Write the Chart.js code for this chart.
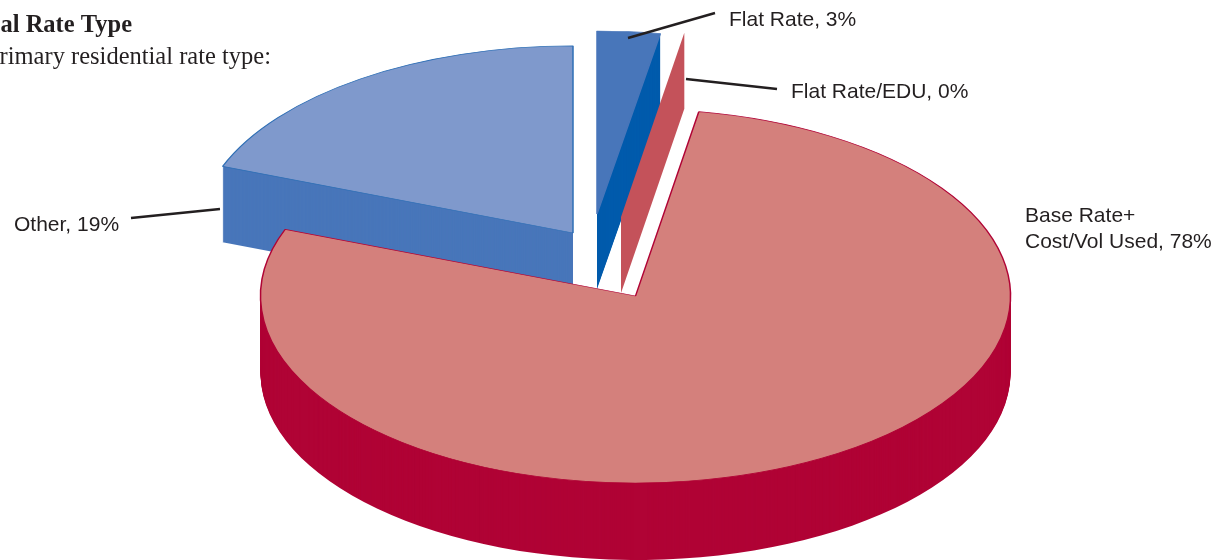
<!DOCTYPE html>
<html>
<head>
<meta charset="utf-8">
<title>Residential Rate Type</title>
<script src="https://cdn.jsdelivr.net/npm/chart.js@4"></script>
<style>
  html, body { margin: 0; padding: 0; background: #fff; overflow: hidden; }
  canvas { display: block; }
</style>
</head>
<body>
<canvas id="rateChart" width="1225" height="560"></canvas>
<script>
const categories = ["Flat Rate", "Flat Rate/EDU", "Base Rate+\nCost/Vol Used", "Other"];
// the labels show these rounded
const shares = [2.7, 0, 78.1, 19.2];
const titleLines = ["al Rate Type", "rimary residential rate type:"];

const topColors = ["#4876ba", "#c4525a", "#d4807c", "#7f99cc"];
const wallColors = ["#005bac", "#c4525a", "#b00335", "#4876ba"];
const edgeColors = ["#4876ba", "#c4525a", "#b00335", "#2f6fb5"];

const squash = [0.488, 0.4987, 0.4987, 0.4987];
const depths = [75, 76, 77, 76];
const drawOrder = [3, 0, 1, 2];
// where each exploded slice has its tip on the page
const tips = [[597, 214], [621, 217], [635.5, 296], [573, 233]];
// label anchors and leader lines, same order as categories
const labelSpots = [[729, 26], [791, 98], [1025, 222], [14, 231]];
const leaders = [
  [[628, 38], [715, 13]],
  [[686, 79], [777, 89]],
  null,
  [[131, 218], [220, 209]]
];

function placeSlice(ctx, arc, i, drop) {
  ctx.translate(tips[i][0], tips[i][1] + drop);
  ctx.scale(1, squash[i]);
  ctx.translate(-arc.x, -arc.y);
}

function slicePath(ctx, arc) {
  ctx.beginPath();
  ctx.moveTo(arc.x, arc.y);
  ctx.arc(arc.x, arc.y, arc.outerRadius, arc.startAngle, arc.endAngle);
  ctx.closePath();
}

function drawWall(ctx, arc, i) {
  ctx.fillStyle = wallColors[i];
  if (arc.circumference === 0) {
    // a 0% slice has no top, only its cut face shows
    const ox = Math.cos(arc.startAngle) * arc.outerRadius;
    const oy = Math.sin(arc.startAngle) * arc.outerRadius * squash[i];
    const [tx, ty] = tips[i];
    ctx.beginPath();
    ctx.moveTo(tx, ty);
    ctx.lineTo(tx + ox, ty + oy);
    ctx.lineTo(tx + ox, ty + oy + depths[i]);
    ctx.lineTo(tx, ty + depths[i]);
    ctx.closePath();
    ctx.fill();
    return;
  }
  for (let d = depths[i]; d > 0; d--) {
    ctx.save();
    placeSlice(ctx, arc, i, d);
    slicePath(ctx, arc);
    ctx.fill();
    ctx.restore();
  }
}

const pie3d = {
  id: "pie3d",
  beforeDatasetsDraw(chart) {
    const ctx = chart.ctx;
    const arcs = chart.getDatasetMeta(0).data;
    drawOrder.forEach(i => {
      drawWall(ctx, arcs[i], i);
      if (arcs[i].circumference > 0) {
        ctx.save();
        placeSlice(ctx, arcs[i], i, 0);
        arcs[i].draw(ctx);
        ctx.restore();
      }
    });
    return false;
  },
  afterDraw(chart) {
    const ctx = chart.ctx;
    ctx.save();
    ctx.fillStyle = "#231f20";
    ctx.strokeStyle = "#231f20";
    ctx.lineWidth = 2.4;
    ctx.textBaseline = "alphabetic";

    ctx.textAlign = "right";
    ctx.font = "bold 24.5px 'Liberation Serif'";
    ctx.fillText(titleLines[0], 132, 32);
    ctx.font = "24.5px 'Liberation Serif'";
    ctx.fillText(titleLines[1], 271, 64);

    ctx.textAlign = "left";
    ctx.font = "21px 'Liberation Sans'";
    categories.forEach((name, i) => {
      const text = name + ", " + Math.round(shares[i]) + "%";
      text.split("\n").forEach((line, n) => {
        ctx.fillText(line, labelSpots[i][0], labelSpots[i][1] + n * 26);
      });
      if (leaders[i]) {
        ctx.beginPath();
        ctx.moveTo(leaders[i][0][0], leaders[i][0][1]);
        ctx.lineTo(leaders[i][1][0], leaders[i][1][1]);
        ctx.stroke();
      }
    });
    ctx.restore();
  }
};

new Chart(document.getElementById("rateChart"), {
  type: "pie",
  data: {
    labels: categories,
    datasets: [{
      data: shares,
      backgroundColor: topColors,
      borderColor: edgeColors,
      borderWidth: 1.5
    }]
  },
  options: {
    responsive: false,
    animation: false,
    radius: 375,
    events: [],
    plugins: {
      legend: { display: false },
      tooltip: { enabled: false }
    }
  },
  plugins: [pie3d]
});
</script>
</body>
</html>
